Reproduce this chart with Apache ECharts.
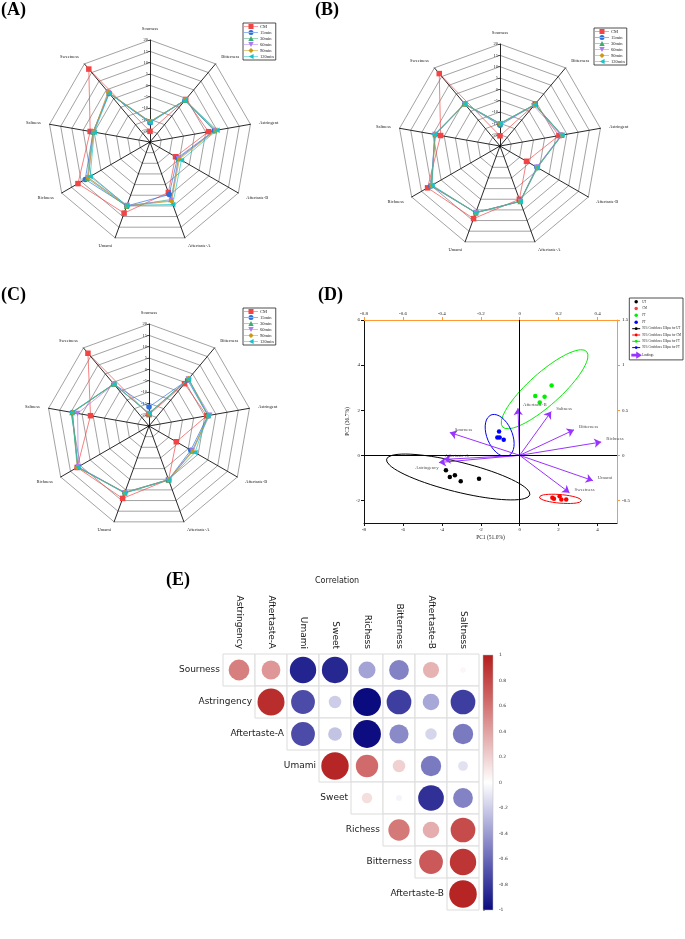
<!DOCTYPE html>
<html><head><meta charset="utf-8">
<script src="https://cdn.jsdelivr.net/npm/echarts@6/dist/echarts.min.js"></script>
<style>html,body{margin:0;padding:0;background:#fff}#c{width:685px;height:939px}</style>
</head><body><div id="c"></div>
<script>
// ---------- Radar data (clockwise order as in the figure) ----------
const radarAxes = ['Sourness','Bitterness','Astringent','Aftertaste-B','Aftertaste-A','Umami','Richness','Saltness','Sweetness'];
const timeNames = ['CM','15min','30min','60min','90min','120min'];
const radarA = [
  [-20.3, -0.5, 1.2, -12.0, -1.3, 8.4, 11.7, 1.8, 17.0],
  [-16.5, -1.0, 3.8, -11.0, -0.3, 5.0, 8.0, 0.5, 3.0],
  [-16.0, -1.0, 4.0, -10.5, 2.0, 5.2, 7.0, 0.5, 3.2],
  [-16.2, -0.8, 4.2, -10.5, 2.5, 4.8, 6.5, 0.3, 3.5],
  [-16.0, -0.8, 4.5, -10.0, 2.8, 5.0, 6.5, 0.3, 3.8],
  [-16.3, -1.0, 5.0, -9.0, 4.3, 4.8, 5.5, 0.0, 3.0]
];
const radarB = [
  [-20.5, -0.8, 1.4, -11.5, 0.0, 9.1, 11.9, 1.6, 16.7],
  [-15.8, -1.2, 2.6, -6.2, 0.9, 6.3, 10.2, 4.0, -0.8],
  [-15.2, -1.0, 2.6, -6.0, 1.0, 6.4, 9.9, 4.1, -0.6],
  [-15.2, -1.9, 2.4, -6.3, 1.0, 6.2, 10.0, 4.2, -0.8],
  [-15.1, -1.1, 2.8, -6.0, 1.0, 6.3, 9.8, 4.0, -0.9],
  [-15.0, -1.2, 2.8, -6.0, 1.1, 6.3, 9.6, 4.4, -0.7]
];
const radarC = [
  [-20.0, -0.6, 0.9, -11.1, 0.2, 9.0, 11.6, 1.2, 16.9],
  [-16.6, 1.5, 1.4, -3.7, 0.2, 6.2, 11.3, 9.3, -0.9],
  [-19.6, 2.0, 1.6, -3.0, 0.3, 6.5, 11.2, 9.5, -0.8],
  [-19.5, 2.0, 2.2, -3.0, 0.2, 6.3, 11.0, 7.0, -0.9],
  [-19.4, 2.3, 1.5, -2.6, 0.2, 6.2, 11.6, 9.3, -0.9],
  [-19.3, 2.1, 1.4, -1.6, 0.3, 6.4, 11.3, 9.6, -0.8]
];
const radarMin = -25, radarMax = 20;

// ---------- PCA data ----------
const groupNames = ['UT','CM','FT','PT'];
const utX = [-3.79,-3.59,-3.33,-3.03,-2.09], utY = [-0.66,-0.96,-0.88,-1.15,-1.04];
const cmX = [1.68,1.76,2.05,2.14,2.39], cmY = [-1.88,-1.93,-1.81,-1.96,-1.96];
const ftX = [0.80,1.03,1.28,1.64], ftY = [2.63,2.34,2.60,3.10];
const ptX = [-1.06,-1.15,-1.03,-0.82], ptY = [1.06,0.79,0.79,0.69];
// ellipse: centre, and two conjugate half-axis vectors (data units)
const ellCX = [-3.16, 2.09, 1.28, -1.03], ellCY = [-0.96, -1.93, 2.93, 0.88];
const ellUX = [3.68, 1.09, 2.16, 0.44],   ellUY = [-0.79, -0.08, 1.67, -0.91];
const ellVX = [-0.19, -0.02, 0.55, -0.60], ellVY = [-0.64, -0.19, -0.53, -0.21];
const loadNames = ['Sourness','Aftertaste-A','Astringency','Aftertaste-B','Saltness','Bitterness','Richness','Umami','Sweetness'];
const loadX = [-3.59,-3.90,-4.15,-0.09,1.62,2.79,4.19,3.76,2.56];
const loadY = [1.01,-0.18,-0.32,2.09,1.94,1.13,0.59,-1.12,-1.66];
const pcXTicks = [-8,-6,-4,-2,0,2,4];
const pcYTicks = [-2,0,2,4,6];
const ldXTicks = [-0.8,-0.6,-0.4,-0.2,0,0.2,0.4];
const ldYTicks = [-0.5,0,0.5,1,1.5];

// ---------- Correlation data ----------
const corrRows = ['Sourness','Astringency','Aftertaste-A','Umami','Sweet','Richess','Bitterness','Aftertaste-B'];
const corrCols = ['Astringency','Aftertaste-A','Umami','Sweet','Richess','Bitterness','Aftertaste-B','Saltness'];
const rSourness    = [0.55, 0.45, -0.89, -0.88, -0.37, -0.50, 0.33, 0.04];
const rAstringency = [0.93, -0.72, -0.20, -1.00, -0.78, -0.35, -0.78];
const rAftertasteA = [-0.72, -0.24, -0.99, -0.47, -0.17, -0.53];
const rUmami       = [0.96, 0.64, 0.20, -0.53, -0.12];
const rSweet       = [0.14, -0.045, -0.84, -0.50];
const rRichess     = [0.58, 0.35, 0.78];
const rBitterness  = [0.72, 0.89];
const rAftertasteB = [0.97];
const corrVals = [rSourness, rAstringency, rAftertasteA, rUmami, rSweet, rRichess, rBitterness, rAftertasteB];

// ---------- styles ----------
const serif = 'Liberation Serif';
const timeColors = ['#F24444','#2B6FDE','#3DAE72','#AE7BEE','#CC9911','#18C2C6'];
const timeSymbols = ['rect','circle','triangle','path://M0,0L10,0L5,9z','diamond','path://M9,0L9,10L0,5z'];
const lineBar = 'M0,2.7h14v0.6h-14z';
const legendIcons = [
  'path://' + lineBar + 'M4.5,0.5h5v5h-5z',
  'path://' + lineBar + 'M4.5,3a2.5,2.5 0 1,0 5,0a2.5,2.5 0 1,0 -5,0z',
  'path://' + lineBar + 'M7,0.5L9.7,5.5L4.3,5.5z',
  'path://' + lineBar + 'M4.3,0.5L9.7,0.5L7,5.5z',
  'path://' + lineBar + 'M7,0.5L9.6,3L7,5.5L4.4,3z',
  'path://' + lineBar + 'M9.6,0.5L9.6,5.5L4.6,3z'
];
const groupColors = ['#000000','#FF0000','#00EE00','#0000FF'];
const purple = '#9933FF';
const orange = '#FF9933';
const cmap = ['#0b0b80','#5858b0','#acacda','#ffffff','#e6b1b1','#cf6464','#b41e1e'];

// indicators go counter-clockwise in ECharts; reorder so they appear clockwise
const ccw = [0,8,7,6,5,4,3,2,1];
function makeRadar(center) {
  return {
    center: center, radius: 102, startAngle: 90, splitNumber: 9, shape: 'polygon',
    indicator: ccw.map((i, k) => Object.assign({ name: radarAxes[i], min: radarMin, max: radarMax },
      k === 0 ? { axisLabel: { show: true }, axisTick: { show: true } } : {})),
    axisName: { color: '#222', fontSize: 4.5, fontFamily: serif },
    nameGap: 9,
    splitLine: { lineStyle: { color: '#8a8a8a', width: 0.8 } },
    splitArea: { show: false },
    axisLine: { lineStyle: { color: '#111', width: 0.9 } },
    axisTick: { show: false, length: 2, lineStyle: { color: '#111', width: 0.6 } },
    axisLabel: { show: false, fontSize: 4.5, color: '#222', fontFamily: serif, margin: 2,
      formatter: v => (v <= radarMin ? '' : String(v)) }
  };
}
function radarLegend(left, top) {
  return {
    left: left, top: top, orient: 'vertical', itemWidth: 14, itemHeight: 5, itemGap: 1,
    padding: [1, 2, 1, 1], borderColor: '#222', borderWidth: 0.8, backgroundColor: '#fff',
    textStyle: { fontSize: 4.5, fontFamily: serif, color: '#222', padding: [0, 0, 0, -3] },
    data: timeNames.map((n, j) => ({ name: n, icon: legendIcons[j] }))
  };
}

const series = [];
[radarA, radarB, radarC].forEach((panel, r) => {
  panel.forEach((vals, j) => {
    series.push({
      type: 'radar', radarIndex: r, name: timeNames[j],
      symbol: timeSymbols[j], symbolSize: 5.5, z: 2 + (j === 0 ? 0 : 1),
      lineStyle: { width: 0.8, color: timeColors[j], opacity: 0.85 },
      itemStyle: { color: timeColors[j] },
      data: [{ name: timeNames[j], value: ccw.map(i => vals[i]) }]
    });
  });
});

// PCA
const grpX = [utX, cmX, ftX, ptX], grpY = [utY, cmY, ftY, ptY];
grpX.forEach((xs, g) => {
  const s = {
    type: 'scatter', name: groupNames[g], xAxisIndex: 0, yAxisIndex: 0,
    symbolSize: 4.5, itemStyle: { color: groupColors[g], opacity: 1 }, z: 5,
    data: xs.map((x, i) => [x, grpY[g][i]])
  };
  if (g === 0) {
    s.markLine = { silent: true, symbol: 'none', label: { show: false },
      lineStyle: { color: '#000', type: 'solid', width: 1 },
      data: [{ xAxis: 0 }, { yAxis: 0 }] };
  }
  series.push(s);
});
const ellNames = groupNames.map(n => '95% Confidence Ellipse for ' + n);
ellCX.forEach((cx, g) => {
  const pts = [];
  for (let k = 0; k <= 72; k++) {
    const t = 2 * Math.PI * k / 72;
    pts.push([cx + ellUX[g] * Math.cos(t) + ellVX[g] * Math.sin(t),
              ellCY[g] + ellUY[g] * Math.cos(t) + ellVY[g] * Math.sin(t)]);
  }
  series.push({
    type: 'line', name: ellNames[g], xAxisIndex: 0, yAxisIndex: 0, symbol: 'none',
    lineStyle: { color: groupColors[g], width: 1 }, itemStyle: { color: groupColors[g] },
    data: pts, z: 3, silent: true
  });
});
series.push({
  type: 'lines', name: 'Loadings', coordinateSystem: 'cartesian2d', xAxisIndex: 0, yAxisIndex: 0,
  symbol: ['none', 'arrow'], symbolSize: [0, 7], z: 4,
  lineStyle: { color: purple, width: 1, opacity: 1, curveness: 0 },
  itemStyle: { color: purple },
  data: loadNames.map((n, i) => ({ name: n, coords: [[0, 0], [loadX[i], loadY[i]]] }))
});
series.push({
  type: 'scatter', name: 'loadLabels', xAxisIndex: 0, yAxisIndex: 0, symbolSize: 0, z: 6, silent: true,
  label: { show: true, formatter: p => p.name, fontSize: 4.8, fontFamily: serif, color: '#222' },
  data: loadNames.map((n, i) => ({
    name: n, value: [loadX[i], loadY[i]],
    label: n === 'Astringency' ? { position: 'bottom', offset: [-12, -2] } :
           (n === 'Aftertaste-A' ? { position: 'right', offset: [-4, -4] } : { position: 'right', offset: [0, -3] })
  }))
});

// Correlation
const cellData = [], corrData = [], rowLabelData = [];
corrVals.forEach((row, r) => {
  row.forEach((v, k) => {
    const c = r + k;
    cellData.push([c, r]);
    corrData.push([c, r, v]);
  });
  rowLabelData.push([r, r]);
});
series.push({
  type: 'custom', xAxisIndex: 2, yAxisIndex: 2, silent: true, z: 1,
  renderItem: (params, api) => {
    const c = api.coord([api.value(0), api.value(1)]);
    const s = api.size([1, 1]);
    return { type: 'rect', shape: { x: c[0] - s[0] / 2, y: c[1] - s[1] / 2, width: s[0], height: s[1] },
      style: { fill: '#fff', stroke: '#dcdcdc', lineWidth: 1 } };
  },
  encode: { x: 0, y: 1 }, data: cellData
});
series.push({
  type: 'custom', xAxisIndex: 2, yAxisIndex: 2, silent: true, z: 2,
  renderItem: (params, api) => {
    const idx = api.value(1);
    const c = api.coord([api.value(0), idx]);
    const s = api.size([1, 1]);
    return { type: 'text', x: c[0] - s[0] / 2 - 3, y: c[1],
      style: { text: corrRows[idx], textAlign: 'right', verticalAlign: 'middle',
        font: '9px "DejaVu Sans"', fill: '#1a1a1a' } };
  },
  encode: { x: 0, y: 1 }, data: rowLabelData
});
const corrSeriesIndex = series.length;
series.push({
  type: 'scatter', xAxisIndex: 2, yAxisIndex: 2, z: 3, silent: true,
  symbolSize: v => 28 * Math.sqrt(Math.abs(v[2])),
  itemStyle: { opacity: 1 },
  data: corrData
});
// colorbar
series.push({
  type: 'custom', xAxisIndex: 3, yAxisIndex: 3, silent: true,
  renderItem: (params, api) => {
    const tl = api.coord([0, 1]), br = api.coord([1, -1]);
    const stops = cmap.map((col, i) => ({ offset: 1 - i / (cmap.length - 1), color: col }));
    return { type: 'rect', shape: { x: tl[0], y: tl[1], width: br[0] - tl[0], height: br[1] - tl[1] },
      style: { fill: new echarts.graphic.LinearGradient(0, 0, 0, 1, stops.reverse()), stroke: '#bbb', lineWidth: 0.5 } };
  },
  data: [[0.5, 0]]
});

const axisFont = { fontSize: 5, fontFamily: serif, color: '#222' };
const option = {
  backgroundColor: '#fff',
  animation: false,
  textStyle: { fontFamily: serif },
  title: [
    { text: '(A)', left: 1, top: 1 },
    { text: '(B)', left: 315, top: 1 },
    { text: '(C)', left: 1, top: 286 },
    { text: '(D)', left: 318, top: 286 },
    { text: '(E)', left: 166, top: 571 },
    { text: 'Correlation', left: 315, top: 577, textStyle: { fontSize: 8, fontWeight: 'normal', fontFamily: 'DejaVu Sans', color: '#222' } }
  ].map(t => Object.assign({ textStyle: { fontSize: 18, fontWeight: 'bold', fontFamily: serif, color: '#000' }, padding: 0 }, t)),
  radar: [makeRadar([150, 142]), makeRadar([500, 146]), makeRadar([149, 426])],
  legend: [
    radarLegend(243, 23), radarLegend(594, 28), radarLegend(243, 308),
    {
      right: 2, top: 298, orient: 'vertical', itemWidth: 8, itemHeight: 3.5, itemGap: 3.3,
      padding: [2, 2, 2, 2], borderColor: '#222', borderWidth: 0.8, backgroundColor: '#fff',
      lineStyle: { width: 1 },
      textStyle: { fontSize: 3, fontFamily: serif, color: '#222', padding: [0, 0, 0, -3] },
      data: groupNames.map(n => ({ name: n, icon: 'circle' }))
        .concat(ellNames.map(n => ({ name: n })))
        .concat([{ name: 'Loadings', icon: 'path://M0,2h7v-2l4,2.5l-4,2.5v-2h-7z' }])
    }
  ],
  grid: [
    { left: 364, top: 320, width: 253, height: 203 },
    { left: 223, top: 654, width: 256, height: 256 },
    { left: 483, top: 655, width: 10, height: 255 }
  ],
  xAxis: [
    { gridIndex: 0, type: 'value', min: -8, max: 5, position: 'bottom',
      name: 'PC1 (51.0%)', nameLocation: 'middle', nameGap: 12, nameTextStyle: { fontSize: 5.5, fontFamily: serif, color: '#222' },
      axisLine: { onZero: false, lineStyle: { color: '#111', width: 1 } },
      axisTick: { length: 3, lineStyle: { color: '#111' }, customValues: pcXTicks },
      axisLabel: Object.assign({ margin: 4, customValues: pcXTicks }, axisFont),
      splitLine: { show: false } },
    { gridIndex: 0, type: 'value', min: -0.8, max: 0.5, position: 'top',
      axisLine: { onZero: false, lineStyle: { color: orange, width: 1 } },
      axisTick: { length: 3, lineStyle: { color: orange }, customValues: ldXTicks },
      axisLabel: Object.assign({ margin: 4, customValues: ldXTicks, formatter: v => String(Math.round(v * 10) / 10) }, axisFont),
      splitLine: { show: false } },
    { gridIndex: 1, type: 'category', data: corrCols, position: 'top', boundaryGap: true,
      axisLine: { show: false }, axisTick: { show: false },
      axisLabel: { rotate: 90, fontSize: 9, fontFamily: 'DejaVu Sans', color: '#1a1a1a', margin: 5, interval: 0 },
      splitLine: { show: false } },
    { gridIndex: 2, type: 'value', min: 0, max: 1, show: false }
  ],
  yAxis: [
    { gridIndex: 0, type: 'value', min: -3, max: 6, position: 'left',
      name: 'PC2 (36.7%)', nameLocation: 'middle', nameGap: 13, nameRotate: 90, nameTextStyle: { fontSize: 5.5, fontFamily: serif, color: '#222' },
      axisLine: { show: true, onZero: false, lineStyle: { color: '#111', width: 1 } },
      axisTick: { show: true, length: 3, lineStyle: { color: '#111' }, customValues: pcYTicks },
      axisLabel: Object.assign({ margin: 4, customValues: pcYTicks }, axisFont),
      splitLine: { show: false } },
    { gridIndex: 0, type: 'value', min: -0.75, max: 1.5, position: 'right',
      axisLine: { show: true, onZero: false, lineStyle: { color: orange, width: 1 } },
      axisTick: { show: true, length: 3, lineStyle: { color: orange }, customValues: ldYTicks },
      axisLabel: Object.assign({ margin: 5, customValues: ldYTicks }, axisFont),
      splitLine: { show: false } },
    { gridIndex: 1, type: 'category', data: corrRows, inverse: true, show: false },
    { gridIndex: 2, type: 'value', min: -1, max: 1, interval: 0.2, position: 'right',
      axisLine: { show: false },
      axisTick: { show: true, length: 2, lineStyle: { color: '#444', width: 0.6 } },
      axisLabel: { fontSize: 4.5, fontFamily: 'DejaVu Sans', color: '#333', margin: 6,
        formatter: v => String(Math.round(v * 10) / 10) },
      splitLine: { show: false } }
  ],
  visualMap: [{ type: 'continuous', show: false, min: -1, max: 1, dimension: 2,
    seriesIndex: [corrSeriesIndex], inRange: { color: cmap } }],
  series: series
};
const chart = echarts.init(document.getElementById('c'), null, { renderer: 'canvas', width: 685, height: 939 });
chart.setOption(option);
</script></body></html>
